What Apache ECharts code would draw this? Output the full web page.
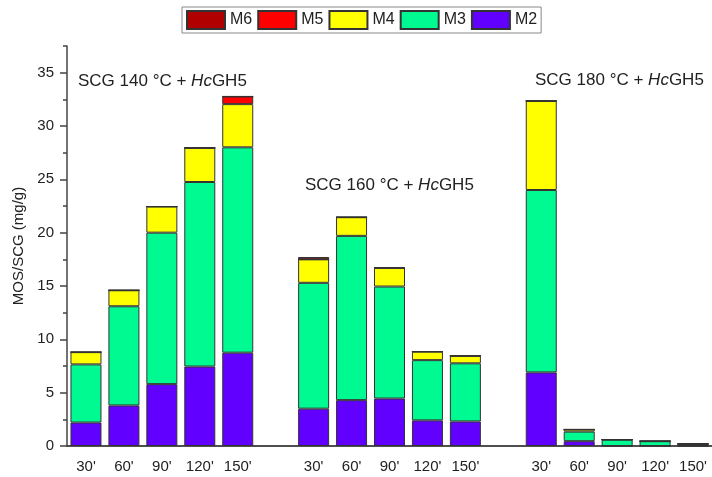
<!DOCTYPE html>
<html>
<head>
<meta charset="utf-8">
<script src="https://cdn.jsdelivr.net/npm/echarts@6/dist/echarts.min.js"></script>
<style>
  html, body { margin: 0; padding: 0; background: #fff; }
  #chart { width: 712px; height: 477px; }
</style>
</head>
<body>
<div id="chart"></div>
<script>
// categories: 3 groups of 5 times, with an empty slot between groups
const categories = ["30'", "60'", "90'", "120'", "150'", "",
                    "30'", "60'", "90'", "120'", "150'", "",
                    "30'", "60'", "90'", "120'", "150'"];
const m2 = [2.2, 3.8, 5.8, 7.45, 8.75, '-', 3.5, 4.3, 4.45, 2.4, 2.3, '-', 6.9, 0.45, 0, 0, 0];
const m3 = [5.45, 9.3, 14.2, 17.3, 19.25, '-', 11.8, 15.4, 10.5, 5.65, 5.45, '-', 17.1, 0.9, 0.6, 0.45, 0.2];
const m4 = [1.15, 1.5, 2.45, 3.2, 4.05, '-', 2.2, 1.75, 1.75, 0.8, 0.7, '-', 8.35, 0.2, 0, 0, 0];
const m5 = [0, 0, 0, 0, 0.72, '-', 0, 0, 0, 0, 0, '-', 0, 0, 0, 0, 0];
const m6 = [0, 0, 0, 0, 0, '-', 0.22, 0, 0, 0, 0, '-', 0, 0, 0, 0, 0];
const yTicks = [0, 5, 10, 15, 20, 25, 30, 35];
const groupLabels = ['SCG 140 °C + {i|Hc}GH5', 'SCG 160 °C + {i|Hc}GH5', 'SCG 180 °C + {i|Hc}GH5'];

const font = 'Arial, "Liberation Sans", sans-serif';
const axisColor = '#444';

let myChart = echarts.init(document.getElementById('chart'));

function bar(name, data, color) {
  return {
    name: name,
    type: 'bar',
    stack: 'all',
    data: data,
    barWidth: 31,
    itemStyle: { color: color, borderColor: '#333', borderWidth: 1 },
    emphasis: { disabled: true }
  };
}

function note(text, x, y) {
  return {
    type: 'text',
    x: x,
    y: y,
    style: {
      text: text,
      font: '17px ' + font,
      fill: '#222',
      verticalAlign: 'middle',
      rich: { i: { fontStyle: 'italic', fontSize: 17, fontFamily: font, fill: '#222' } }
    }
  };
}

let option = {
  animation: false,
  backgroundColor: '#fff',
  textStyle: { fontFamily: font },
  legend: {
    data: ['M6', 'M5', 'M4', 'M3', 'M2'],
    left: 182,
    top: 7,
    itemWidth: 38,
    itemHeight: 18,
    itemGap: 5,
    padding: [3, 4],
    borderColor: '#888',
    borderWidth: 1,
    icon: 'rect',
    textStyle: { fontSize: 16, color: '#222', fontFamily: font }
  },
  grid: { left: 67, top: 46, width: 646, height: 400 },
  xAxis: [
    {
      type: 'category',
      data: categories,
      axisLine: { lineStyle: { color: axisColor, width: 1.5 } },
      axisTick: { show: false },
      axisLabel: { fontSize: 15, color: '#222', margin: 13, interval: 0 }
    },
    {
      type: 'category',
      position: 'top',
      data: categories,
      axisLine: { lineStyle: { color: axisColor, width: 1.5 } },
      axisTick: { show: false },
      axisLabel: { show: false }
    }
  ],
  yAxis: [
    {
      type: 'value',
      min: 0,
      max: 37.5,
      interval: 5,
      name: 'MOS/SCG (mg/g)',
      nameLocation: 'middle',
      nameGap: 40,
      nameTextStyle: { fontSize: 15, color: '#222' },
      axisLine: { show: true, lineStyle: { color: axisColor, width: 1.5 } },
      axisTick: { show: true, length: 7, customValues: yTicks, lineStyle: { color: axisColor, width: 1.5 } },
      axisLabel: { fontSize: 15, color: '#222', margin: 13, customValues: yTicks },
      splitLine: { show: false }
    },
    {
      type: 'value',
      min: 0,
      max: 37.5,
      interval: 2.5,
      position: 'left',
      axisLine: { show: false },
      axisTick: { show: true, length: 4, lineStyle: { color: axisColor, width: 1.5 } },
      axisLabel: { show: false },
      splitLine: { show: false }
    }
  ],
  series: [
    bar('M2', m2, '#6200ff'),
    bar('M3', m3, '#00fa92'),
    bar('M4', m4, '#ffff00'),
    bar('M5', m5, '#ff0000'),
    bar('M6', m6, '#b00000')
  ],
  graphic: [
    note(groupLabels[0], 78, 81),
    note(groupLabels[1], 305, 185),
    note(groupLabels[2], 535, 80)
  ]
};

option && myChart.setOption(option);
</script>
</body>
</html>
